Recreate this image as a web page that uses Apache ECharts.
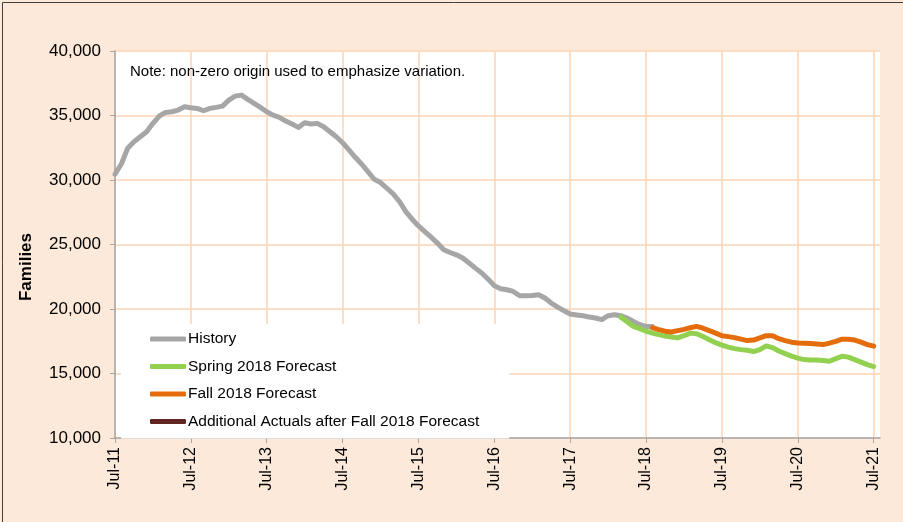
<!DOCTYPE html>
<html>
<head>
<meta charset="utf-8">
<script src="https://cdn.jsdelivr.net/npm/echarts@6/dist/echarts.min.js"></script>
<style>
html,body{margin:0;padding:0;background:#FDE9D9;}
#chart{width:903px;height:522px;}
</style>
</head>
<body>
<div id="chart"></div>
<script>
// Monthly series starting Jul-2011 (index 0) through Jul-2021 (index 120)
var startYear = 2011, startMonth = 6; // July
var monthCount = 122; // one extra month past Jul-21 for axis padding
var yTicks = [10000, 15000, 20000, 25000, 30000, 35000, 40000];

var seriesNames = ['History', 'Spring 2018 Forecast', 'Fall 2018 Forecast', 'Additional Actuals after Fall 2018 Forecast'];

// History: Jul-11 .. Aug-18
var historyStart = 0;
var historyData = [
  30450, 31240, 32460, 32970, 33350, 33740, 34390, 34960, 35240, 35290, 35420, 35680,
  35600, 35550, 35370, 35550, 35630, 35730, 36190, 36500, 36580, 36250, 35940, 35630,
  35290, 35030, 34860, 34570, 34340, 34080, 34440, 34340, 34390, 34130, 33740, 33350,
  32890, 32330, 31760, 31240, 30650, 30060, 29800, 29360, 28920, 28330, 27550, 26960,
  26440, 26000, 25570, 25110, 24590, 24380, 24200, 23950, 23560, 23170, 22790, 22320,
  21800, 21570, 21490, 21360, 21030, 21030, 21050, 21110, 20850, 20460, 20150, 19870,
  19610, 19540, 19480, 19380, 19300, 19170, 19480, 19560, 19480, 19300, 19040, 18790,
  18650, 18650
];

// Spring 2018 Forecast: Mar-18 .. Jul-21
var springStart = 80;
var springData = [
  19370, 19020, 18650, 18480, 18280, 18130, 18010, 17900, 17830, 17760, 17930, 18130,
  18090, 17860, 17620, 17390, 17200, 17040, 16930, 16850, 16800, 16700, 16850, 17140,
  17010, 16740, 16540, 16350, 16190, 16080, 16050, 16040, 16000, 15950, 16150, 16330,
  16270, 16080, 15880, 15690, 15540
];

// Fall 2018 Forecast: Aug-18 .. Jul-21
var fallStart = 85;
var fallData = [
  18550, 18400, 18280, 18220, 18320, 18420, 18550, 18650, 18510, 18320, 18130, 17930,
  17860, 17780, 17660, 17550, 17590, 17760, 17930, 17930, 17700, 17550, 17430, 17370,
  17340, 17320, 17290, 17240, 17350, 17490, 17660, 17660, 17590, 17430, 17240, 17120
];

// Additional actuals after Fall 2018 Forecast (none plotted)
var additionalStart = 86;
var additionalData = [];

var monthNames = ['Jan','Feb','Mar','Apr','May','Jun','Jul','Aug','Sep','Oct','Nov','Dec'];
var categories = [];
for (var i = 0; i < monthCount; i++) {
  var mIdx = (startMonth + i) % 12;
  var yr = startYear + Math.floor((startMonth + i) / 12);
  categories.push(monthNames[mIdx] + '-' + String(yr % 100).padStart(2, '0'));
}

function pad(arr, start) {
  var out = [];
  for (var i = 0; i < monthCount; i++) {
    var k = i - start;
    out.push(k >= 0 && k < arr.length ? arr[k] : null);
  }
  return out;
}

var colors = ['#A6A6A6', '#92D050', '#E46C0A', '#632523'];
var FONT = '"Liberation Sans", Arial, sans-serif';

var chart = echarts.init(document.getElementById('chart'), null, {renderer: 'canvas'});

function lineSeries(name, data, color) {
  return {
    name: name,
    type: 'line',
    data: data,
    symbol: 'none',
    showSymbol: false,
    connectNulls: false,
    lineStyle: {color: color, width: 5, cap: 'round', join: 'round'},
    itemStyle: {color: color},
    emphasis: {disabled: true},
    animation: false
  };
}

var option = {
  backgroundColor: '#FDE9D9',
  animation: false,
  textStyle: {fontFamily: FONT},
  grid: {left: 115, right: 23, top: 51, bottom: 84, show: true, backgroundColor: '#FFFFFF', borderWidth: 0, containLabel: false},
  xAxis: {
    type: 'category',
    data: categories,
    boundaryGap: false,
    axisLine: {show: true, lineStyle: {color: '#A6A6A6', width: 1.5}},
    axisTick: {show: true, interval: 11, length: 5, lineStyle: {color: '#A6A6A6', width: 1}},
    axisLabel: {show: true, interval: 11, rotate: 90, margin: 9, color: '#000', fontSize: 16, fontFamily: FONT},
    splitLine: {show: true, interval: 11, lineStyle: {color: '#FCD5B4', width: 1.5}}
  },
  yAxis: {
    type: 'value',
    min: yTicks[0],
    max: yTicks[yTicks.length - 1],
    interval: 5000,
    axisLine: {show: true, lineStyle: {color: '#A6A6A6', width: 1.5}},
    axisTick: {show: true, length: 5, lineStyle: {color: '#A6A6A6', width: 1}},
    axisLabel: {
      color: '#000', fontSize: 17, margin: 14, fontFamily: FONT,
      formatter: function (v) { return v.toString().replace(/\B(?=(\d{3})+(?!\d))/g, ','); }
    },
    splitLine: {show: true, lineStyle: {color: '#FCD5B4', width: 1.5}}
  },
  legend: {
    show: true,
    orient: 'vertical',
    left: 121,
    top: 324,
    padding: [7, 30, 9, 29],
    itemGap: 11.5,
    itemWidth: 36,
    itemHeight: 5,
    icon: 'roundRect',
    backgroundColor: '#FFFFFF',
    textStyle: {color: '#000', fontSize: 15.5, fontFamily: FONT, padding: [0, 0, 0, -3]},
    data: seriesNames
  },
  graphic: [
    {
      type: 'text', left: 130, top: 64, z: 100,
      style: {text: 'Note: non-zero origin used to emphasize variation.', fill: '#000', font: '15px ' + FONT}
    },
    {
      type: 'text', x: 26, y: 267, rotation: Math.PI / 2, z: 100,
      style: {text: 'Families', fill: '#000', font: 'bold 17px ' + FONT, align: 'center', verticalAlign: 'middle'}
    },
    {
      type: 'rect', left: 0, top: 0, z: 200, silent: true,
      shape: {x: 0.5, y: 0.5, width: 902, height: 521},
      style: {fill: 'none', stroke: '#3F3F3F', lineWidth: 1}
    }
  ],
  series: [
    lineSeries(seriesNames[0], pad(historyData, historyStart), colors[0]),
    lineSeries(seriesNames[1], pad(springData, springStart), colors[1]),
    lineSeries(seriesNames[2], pad(fallData, fallStart), colors[2]),
    lineSeries(seriesNames[3], pad(additionalData, additionalStart), colors[3])
  ]
};
chart.setOption(option);
</script>
</body>
</html>
